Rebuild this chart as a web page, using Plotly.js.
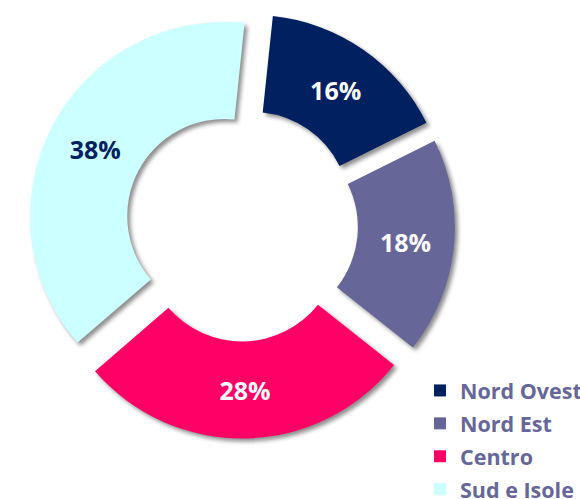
<!DOCTYPE html>
<html>
<head>
<meta charset="utf-8">
<script src="https://cdn.plot.ly/plotly-3.0.1.min.js"></script>
<style>
  html, body { margin: 0; padding: 0; background: #fff; }
  #chart { width: 580px; height: 499px; }
  .pielayer .slice path.surface { filter: drop-shadow(3px 3px 2px rgba(0,0,0,0.45)); }
</style>
</head>
<body>
<div id="chart"></div>
<script>
// areas and their share (%)
var areas = ['Nord Ovest', 'Nord Est', 'Centro', 'Sud e Isole'];
var shares = [16, 18, 28, 38];
var sliceColors = ['#002060', '#666699', '#FF0066', '#CCFFFF'];
var labelColors = ['#ffffff', '#ffffff', '#ffffff', '#002060'];

// smaller text inside a taller legend row
var legendLabels = areas.map(a => '<span style="font-size:21.5px">' + a + '</span>');

var W = 580, H = 499;

var trace = [{
  type: 'pie',
  labels: legendLabels,
  values: shares,
  sort: false,
  direction: 'clockwise',
  rotation: 6,
  hole: 0.5,
  pull: [0.1, 0.1, 0.1, 0.1],
  domain: {x: [28 / W, 455 / W], y: [1 - 438.5 / H, 1 - 11.5 / H]},
  marker: {colors: sliceColors, line: {width: 0}},
  texttemplate: '%{value}%',
  textposition: 'inside',
  insidetextorientation: 'horizontal',
  textfont: {family: 'Open Sans', size: 25, color: labelColors, weight: 'bold'}
}];

var layout = {
  width: W,
  height: H,
  margin: {l: 0, r: 0, t: 0, b: 0, autoexpand: false},
  paper_bgcolor: '#ffffff',
  showlegend: true,
  legend: {
    x: 420 / W, y: 1 - 369 / H, xanchor: 'left', yanchor: 'top',
    font: {family: 'Open Sans', size: 23, color: '#666699', weight: 'bold'},
    bgcolor: 'rgba(0,0,0,0)'
  }
};

Plotly.newPlot('chart', trace, layout, {displayModeBar: false});
</script>
</body>
</html>
